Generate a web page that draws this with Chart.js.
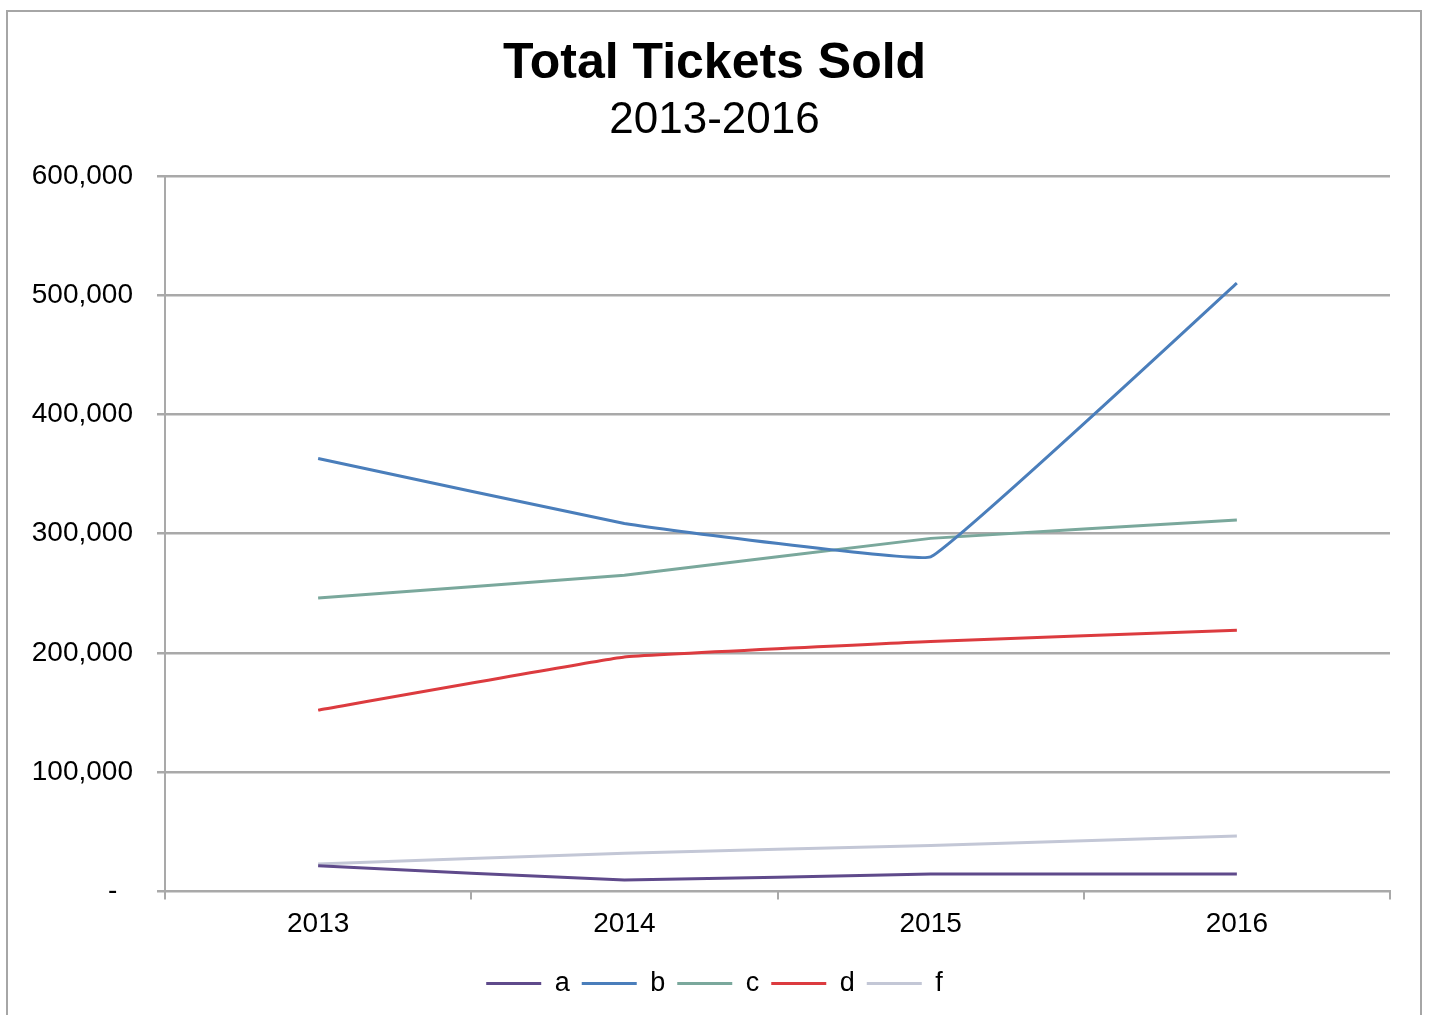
<!DOCTYPE html>
<html>
<head>
<meta charset="utf-8">
<title>Total Tickets Sold</title>
<script src="https://cdn.jsdelivr.net/npm/chart.js@4"></script>
<style>
  html, body { margin: 0; padding: 0; background: #fff; overflow: hidden; }
  #frame {
    position: absolute; left: 6px; top: 10px;
    width: 1412px; height: 1100px;
    border: 2px solid #a6a6a6;
  }
  #wrap { position: absolute; left: 0; top: 0; width: 1429px; height: 1015px; }
</style>
</head>
<body>
<div id="frame"></div>
<div id="wrap"><canvas id="myChart"></canvas></div>
<script>
'use strict';

// yearly ticket totals per series
let years = ['2013', '2014', '2015', '2016'];
let seriesNames = ['a', 'b', 'c', 'd', 'f'];
let aSold = [21500, 9500, 14500, 14500];
let bSold = [363000, 308500, 280500, 510000];
let cSold = [246000, 265000, 296000, 311500];
let dSold = [152000, 196500, 209500, 219000];
let fSold = [23000, 32000, 38500, 46500];
let yTicks = [0, 100000, 200000, 300000, 400000, 500000, 600000];

let lineColors = ['#5f4a8b', '#4a7ebb', '#7aa89c', '#dc3b3f', '#c3c7d6'];
let allSold = [aSold, bSold, cSold, dSold, fSold];

let gridGray = '#a9a9a9';
let fontFamily = '"Liberation Sans", Arial, sans-serif';

let datasets = [];
for (let i = 0; i < seriesNames.length; i++) {
  datasets.push({
    label: seriesNames[i],
    data: allSold[i],
    borderColor: lineColors[i],
    backgroundColor: lineColors[i],
    borderWidth: 3,
    pointRadius: 0,
    pointStyle: 'line',
    tension: 0.06,
    fill: false
  });
}

function formatTick(value) {
  if (value === 0) {
    return '-  ';
  }
  return value.toLocaleString('en-US');
}

let ctx = document.getElementById('myChart').getContext('2d');
let myChart = new Chart(ctx, {
  type: 'line',
  data: {
    labels: years,
    datasets: datasets
  },
  options: {
    responsive: true,
    maintainAspectRatio: false,
    animation: false,
    layout: {
      padding: { top: 0, left: 0, right: 0, bottom: 8 }
    },
    plugins: {
      title: {
        display: true,
        text: 'Total Tickets Sold',
        color: '#000',
        font: { family: fontFamily, size: 50, weight: 'bold', lineHeight: 1.2 },
        padding: { top: 34, bottom: 0 }
      },
      subtitle: {
        display: true,
        text: '2013-2016',
        color: '#000',
        font: { family: fontFamily, size: 44, weight: 'normal', lineHeight: 1.2 },
        padding: { top: 0, bottom: 29 }
      },
      legend: {
        position: 'bottom',
        labels: {
          usePointStyle: true,
          pointStyleWidth: 55,
          boxHeight: 27,
          padding: 12,
          color: '#000',
          font: { family: fontFamily, size: 27 }
        }
      },
      tooltip: { enabled: false }
    },
    scales: {
      x: {
        offset: true,
        afterFit: function (scale) {
          // leave room between the year labels and the legend
          scale.height += 9;
        },
        grid: {
          offset: true,
          drawOnChartArea: false,
          drawTicks: true,
          tickLength: 8,
          color: gridGray,
          lineWidth: 2
        },
        border: { color: gridGray, width: 2 },
        ticks: {
          color: '#000',
          padding: 8,
          font: { family: fontFamily, size: 28 }
        }
      },
      y: {
        min: 0,
        max: 600000,
        afterBuildTicks: function (scale) {
          scale.ticks = yTicks.map(function (v) { return { value: v }; });
        },
        afterFit: function (scale) {
          scale.width = 165;
        },
        grid: {
          color: gridGray,
          lineWidth: 2.5,
          tickLength: 8
        },
        border: { color: gridGray, width: 2 },
        ticks: {
          color: '#000',
          padding: 24,
          callback: formatTick,
          font: { family: fontFamily, size: 28 }
        }
      },
      yRight: {
        position: 'right',
        display: true,
        grid: { display: false },
        border: { display: false },
        ticks: { display: false },
        afterFit: function (scale) {
          scale.width = 39;
        }
      }
    }
  }
});
</script>
</body>
</html>
